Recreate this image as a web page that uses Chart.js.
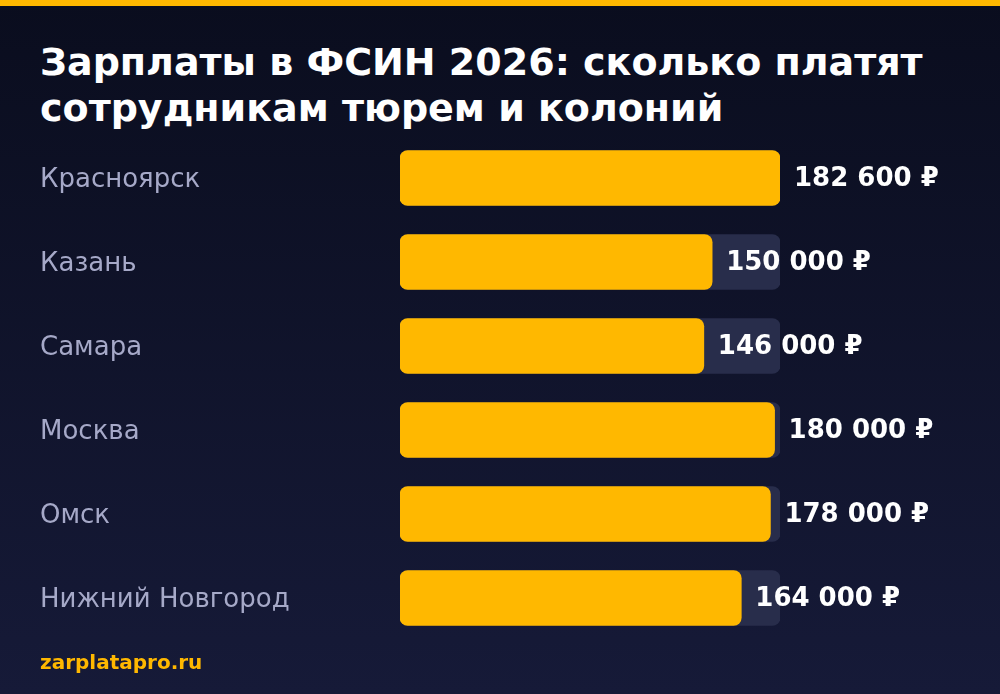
<!DOCTYPE html>
<html lang="ru">
<head>
<meta charset="utf-8">
<script src="https://cdn.jsdelivr.net/npm/chart.js@4/dist/chart.umd.min.js"></script>
<style>
  html, body { margin: 0; padding: 0; }
  body {
    width: 1000px; height: 694px; overflow: hidden; position: relative;
    background: linear-gradient(180deg, #0a0d1e 0%, #161a38 100%);
    font-family: "DejaVu Sans", sans-serif;
  }
  .topline { position: absolute; left: 0; top: 0; width: 1000px; height: 6px; background: #ffb800; }
  h1 {
    position: absolute; left: 40px; top: 39px; margin: 0;
    font-size: 38px; line-height: 46px; font-weight: bold; color: #ffffff;
  }
  .src {
    position: absolute; left: 40px; top: 650px;
    font-size: 20px; font-weight: bold; color: #ffb800;
  }
  #wrap { position: absolute; left: 0; top: 0; width: 1000px; height: 694px; }
</style>
</head>
<body>
<div class="topline"></div>
<h1>Зарплаты в ФСИН 2026: сколько платят<br>сотрудникам тюрем и колоний</h1>
<div id="wrap"><canvas id="chart"></canvas></div>
<div class="src">zarplatapro.ru</div>
<script>
// данные
const cities = ["Красноярск", "Казань", "Самара", "Москва", "Омск", "Нижний Новгород"];
const salaries = [182600, 150000, 146000, 180000, 178000, 164000];
const maxSalary = 182600;
const trackValues = cities.map(() => maxSalary);

function fmtRub(v){
  return v.toString().replace(/\B(?=(\d{3})+(?!\d))/g, " ") + " ₽";
}

// подписи значений справа от полосы
const valueLabels = {
  id: "valueLabels",
  afterDatasetsDraw(chart){
    const ctx = chart.ctx;
    const meta = chart.getDatasetMeta(0);
    ctx.save();
    ctx.font = "bold 26px 'DejaVu Sans'";
    ctx.fillStyle = "#ffffff";
    ctx.textAlign = "left";
    ctx.textBaseline = "middle";
    meta.data.forEach((bar, i) => {
      ctx.fillText(fmtRub(salaries[i]), bar.x + 14, bar.y + 1);
    });
    ctx.restore();
  }
};

const canvas = document.getElementById("chart");
new Chart(canvas.getContext("2d"), {
  type: "bar",
  data: {
    labels: cities,
    datasets: [
      {
        data: salaries,
        backgroundColor: "#ffb800",
        borderRadius: 8,
        borderSkipped: false,
        barThickness: 55,
        grouped: false,
        order: 0
      },
      {
        data: trackValues,
        backgroundColor: "#282d4b",
        borderRadius: 8,
        borderSkipped: false,
        barThickness: 55,
        grouped: false,
        order: 1
      }
    ]
  },
  options: {
    indexAxis: "y",
    responsive: true,
    maintainAspectRatio: false,
    animation: false,
    layout: { padding: { left: 40, right: 220, top: 136, bottom: 54 } },
    plugins: { legend: { display: false }, tooltip: { enabled: false } },
    scales: {
      x: { display: false, min: 0, max: maxSalary },
      y: {
        grid: { display: false, drawTicks: false },
        border: { display: false },
        afterFit(scale){ scale.width = 360; },
        ticks: {
          crossAlign: "far",
          padding: 0,
          labelOffset: 2,
          color: "#a6a9c8",
          font: { family: "'DejaVu Sans'", size: 26 }
        }
      }
    }
  },
  plugins: [valueLabels]
});
</script>
</body>
</html>
